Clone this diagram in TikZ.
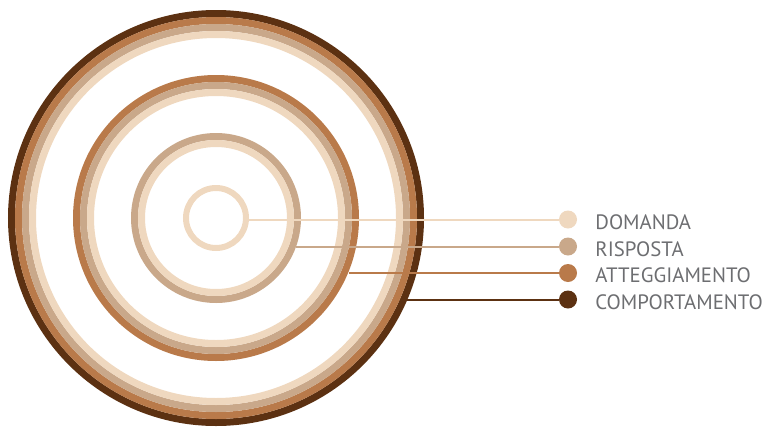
\documentclass[tikz,border=0pt]{standalone}
\usepackage{fontspec}
\setmainfont{PT Sans}
\usepackage{tikz}
\usetikzlibrary{positioning}
\definecolor{cream}{HTML}{EFD8BF}
\definecolor{tan}{HTML}{C9A88A}
\definecolor{copper}{HTML}{B97A4A}
\definecolor{umber}{HTML}{5C3112}
\definecolor{label}{HTML}{6D6E71}

\begin{document}
\begin{tikzpicture}[
  x=1pt,y=-1pt,
  node distance=18pt,
  ring/.style={circle,draw=#1,line width=7pt,inner sep=0pt,fill=none},
  dot/.style={circle,fill=#1,inner sep=0pt,minimum size=18pt},
  lbl/.style={font=\fontsize{20.8}{23}\selectfont,text=label,inner sep=0pt,yshift=-2.5pt},
  conn/.style={draw=#1,line width=2pt}
]
\useasboundingbox (0,0) rectangle (766,426);
\coordinate (c) at (216,218);
% outer ring
\node[ring=umber,minimum size=409pt] (outD) at (c) {};
\node[ring=copper,minimum size=395pt] at (c) {};
\node[ring=tan,minimum size=381pt] at (c) {};
\node[ring=cream,minimum size=367pt] at (c) {};
% second ring
\node[ring=copper,minimum size=279pt] (outC) at (c) {};
\node[ring=tan,minimum size=265pt] at (c) {};
\node[ring=cream,minimum size=251pt] at (c) {};
% third ring
\node[ring=tan,minimum size=163pt] (outB) at (c) {};
\node[ring=cream,minimum size=149pt] at (c) {};
% inner ring
\node[ring=cream,line width=6pt,minimum size=60pt] (outA) at (c) {};

\node[dot=cream] (dotA) at (568,219.5) {};
\node[dot=tan] (dotB) at (568,246.5) {};
\node[dot=copper] (dotC) at (568,273) {};
\node[dot=umber] (dotD) at (568,299.5) {};

\node[lbl,right=of dotA.east,anchor=west] (txtA) {DOMANDA};
\node[lbl,right=of dotB.east,anchor=west] (txtB) {RISPOSTA};
\node[lbl,right=of dotC.east,anchor=west] (txtC) {ATTEGGIAMENTO};
\node[lbl,right=of dotD.east,anchor=west] (txtD) {COMPORTAMENTO};

\draw[conn=cream] (dotA) -- (dotA -| outA.-2.6);
\draw[conn=tan] (dotB) -- (dotB -| outB.-19.59);
\draw[conn=copper] (dotC) -- (dotC -| outC.-22.62);
\draw[conn=umber] (dotD) -- (dotD -| outD.-23.07);
\end{tikzpicture}
\end{document}
